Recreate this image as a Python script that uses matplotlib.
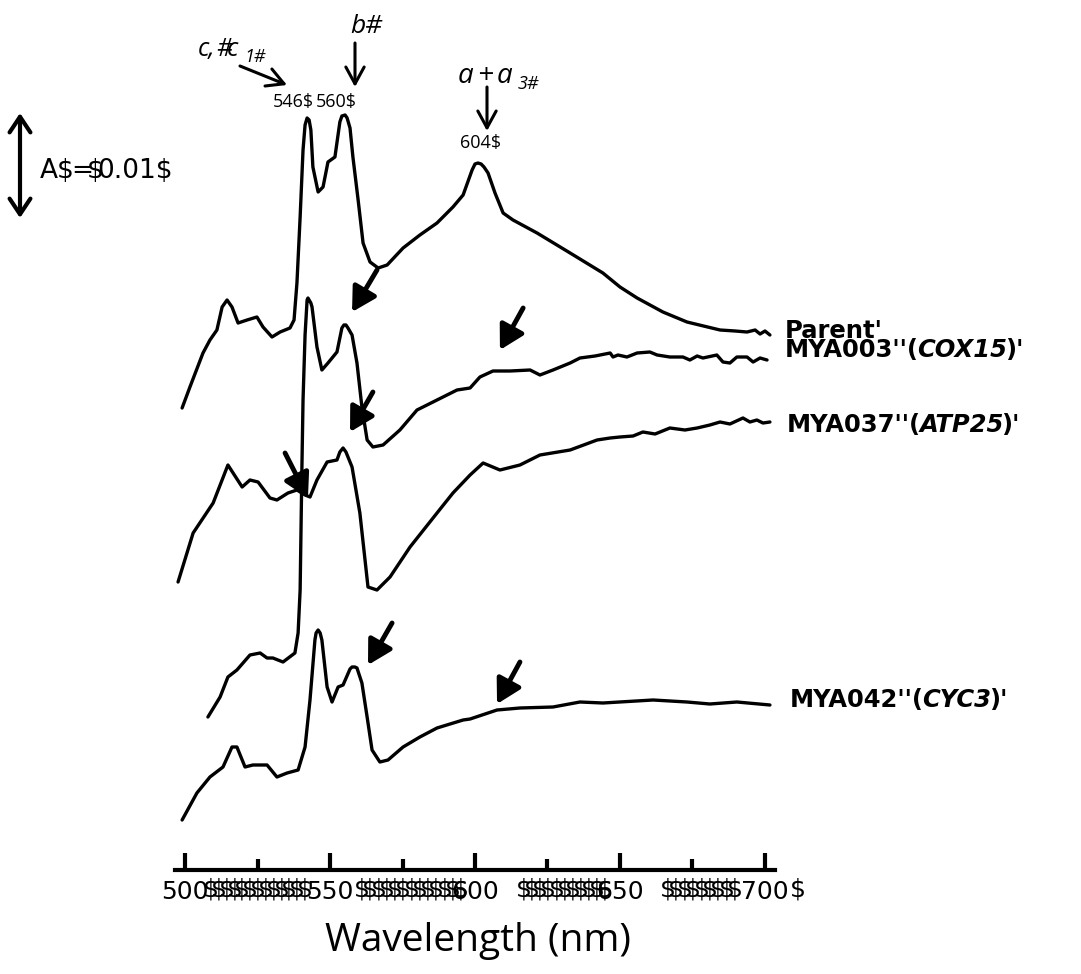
import matplotlib
matplotlib.use("Agg")
import matplotlib.pyplot as plt

plt.rcParams['font.family'] = ['Open Sans', 'DejaVu Sans']

# ---------------- data (wavelength in nm, absorbance in mA, traces stacked) ----------------
parent_wl = [499.0, 501.7, 506.2, 508.6, 511.0, 512.8, 514.5, 516.2, 518.3, 521.4,
             524.8, 526.9, 530.0, 532.8, 536.2, 537.6, 538.6, 539.7, 540.7, 541.4,
             542.1, 542.8, 543.4, 544.1, 545.9, 547.6, 549.3, 551.7, 553.4, 554.1,
             555.2, 555.9, 556.9, 557.9, 559.7, 561.4, 563.8, 566.6, 569.7, 575.2,
             581.0, 586.9, 592.4, 595.9, 599.0, 600.0, 601.0, 602.1, 603.1, 604.5,
             606.9, 609.7, 613.1, 621.4, 632.8, 644.1, 650.0, 655.9, 664.8, 673.1,
             684.5, 689.7, 693.8, 696.6, 698.3, 700.0, 701.7]
parent_a = [46.2, 48.3, 51.7, 53.0, 54.0, 56.3, 57.0, 56.3, 54.7, 55.0,
            55.3, 54.3, 53.3, 53.8, 54.2, 55.0, 58.7, 65.3, 72.0, 74.5,
            75.2, 75.0, 74.0, 70.3, 67.8, 68.3, 70.8, 71.3, 74.8, 75.4,
            75.5, 75.2, 74.2, 71.3, 67.0, 62.7, 60.8, 60.2, 60.5, 62.2,
            63.5, 64.7, 66.3, 67.5, 70.0, 70.6, 70.7, 70.6, 70.3, 69.7,
            67.7, 65.7, 65.0, 63.7, 61.7, 59.7, 58.3, 57.2, 55.8, 54.8,
            54.0, 53.9, 53.8, 54.0, 53.6, 53.9, 53.5]

cox15_wl = [507.9, 512.1, 514.8, 517.9, 522.4, 525.9, 528.3, 530.3, 533.8, 537.9,
            539.0, 539.7, 540.0, 540.3, 540.7, 541.4, 542.1, 542.4, 542.8, 543.4,
            543.8, 545.5, 547.2, 549.3, 552.4, 554.1, 554.8, 555.5, 556.2, 557.6,
            559.3, 561.0, 562.8, 564.8, 568.3, 574.1, 580.0, 586.9, 593.8, 598.3,
            601.7, 606.2, 612.1, 619.0, 622.4, 626.9, 632.8, 636.2, 641.4, 646.6,
            647.6, 649.3, 652.4, 655.9, 660.3, 662.8, 667.2, 671.7, 674.1, 676.6,
            678.6, 683.4, 685.5, 687.9, 690.3, 693.8, 695.9, 698.3, 700.7]
cox15_a = [15.3, 17.3, 19.3, 20.0, 21.5, 21.7, 21.2, 21.2, 20.8, 21.7,
           23.7, 28.0, 34.0, 40.0, 47.0, 53.5, 57.0, 57.2, 57.0, 56.7,
           56.3, 52.3, 50.0, 50.7, 51.8, 54.2, 54.5, 54.5, 54.2, 53.5,
           50.7, 46.3, 43.0, 42.3, 42.5, 44.0, 46.0, 47.0, 48.0, 48.2,
           49.3, 49.9, 49.9, 50.0, 49.5, 50.0, 50.7, 51.2, 51.4, 51.7,
           51.3, 51.5, 51.3, 51.7, 51.8, 51.5, 51.3, 51.3, 51.0, 51.4,
           51.2, 51.5, 50.8, 50.7, 51.3, 51.3, 50.8, 51.2, 51.0]

atp25_wl = [497.6, 502.8, 509.7, 514.8, 519.7, 522.4, 525.2, 529.3, 531.7, 535.5,
            538.6, 541.4, 543.1, 545.5, 549.0, 552.4, 553.4, 554.5, 555.5, 557.6,
            560.3, 563.1, 566.2, 570.7, 577.6, 586.9, 592.4, 598.3, 602.8, 608.6,
            615.5, 622.4, 632.8, 642.1, 646.6, 650.0, 654.5, 657.9, 662.1, 667.2,
            672.4, 676.6, 681.0, 684.5, 687.9, 692.4, 694.8, 697.2, 699.3, 701.7]
atp25_a = [28.8, 33.7, 36.7, 40.5, 38.3, 39.0, 38.8, 37.2, 37.0, 37.7,
           38.0, 37.5, 37.3, 39.0, 40.8, 41.0, 41.8, 42.2, 41.8, 40.3,
           35.7, 28.3, 28.0, 29.3, 32.3, 35.7, 37.7, 39.5, 40.7, 40.0,
           40.5, 41.5, 42.0, 43.0, 43.2, 43.3, 43.4, 43.8, 43.6, 44.2,
           44.0, 44.2, 44.5, 44.8, 44.6, 45.2, 44.8, 45.0, 44.7, 44.8]

cyc3_wl = [499.0, 504.1, 508.6, 513.1, 516.2, 517.9, 520.7, 523.4, 528.3, 531.7,
           535.2, 539.0, 541.4, 543.1, 544.8, 545.2, 545.9, 546.6, 547.2, 549.0,
           550.7, 552.8, 554.5, 556.9, 557.6, 558.6, 559.3, 561.0, 562.8, 564.5,
           567.2, 570.0, 575.2, 581.0, 586.9, 595.9, 598.3, 607.6, 615.5, 626.9,
           636.2, 644.1, 661.4, 673.1, 681.0, 690.3, 701.7]
cyc3_a = [5.0, 7.7, 9.3, 10.3, 12.3, 12.3, 10.3, 10.5, 10.5, 9.3,
          9.7, 10.0, 12.3, 17.0, 23.0, 23.7, 24.0, 23.7, 23.0, 18.3,
          16.8, 18.3, 18.5, 20.1, 20.3, 20.3, 20.2, 18.7, 15.3, 12.0,
          10.8, 11.0, 12.3, 13.3, 14.2, 15.0, 15.1, 16.0, 16.2, 16.3,
          16.8, 16.7, 17.0, 16.8, 16.6, 16.8, 16.5]

trace_wl = [parent_wl, cox15_wl, atp25_wl, cyc3_wl]
trace_a = [parent_a, cox15_a, atp25_a, cyc3_a]

major_ticks = [500, 550, 600, 650, 700]
minor_ticks = [525, 575, 625, 675]
tick_labels = ["500", "550", "600", "650", "700"]
peak_labels = ["546$", "560$", "604$"]

# arrows on traces: (tail wavelength, tail A, tip wavelength, tip A)
mark_tail_wl = [566.2, 616.6, 564.8, 534.5, 571.4, 615.5]
mark_tail_a = [60.0, 56.2, 47.8, 41.7, 24.7, 20.8]
mark_tip_wl = [557.6, 608.6, 556.9, 542.4, 563.1, 607.6]
mark_tip_a = [55.8, 52.0, 43.8, 37.2, 20.5, 16.6]

# ---------------- figure ----------------
W, H = 1081, 974
fig = plt.figure(figsize=(W / 100, H / 100), dpi=100)
ax = fig.add_axes([175 / W, 104 / H, 600 / W, 870 / H])
renderer = fig.canvas.get_renderer()


def fx(x):
    return x / W


def fy(y):
    return 1 - y / H


for wl, a in zip(trace_wl, trace_a):
    ax.plot(wl, a, color='black', lw=2.4, solid_joinstyle='round', solid_capstyle='round')

ax.set_xlim(496.55, 703.45)
ax.set_ylim(0, 87)
for s in ['left', 'right', 'top']:
    ax.spines[s].set_visible(False)
ax.spines['bottom'].set_linewidth(3)
ax.set_yticks([])
ax.set_xticks(major_ticks)
ax.set_xticklabels(tick_labels, fontsize=18, family='DejaVu Sans')
ax.set_xticks(minor_ticks, minor=True)
ax.tick_params(axis='x', which='major', direction='in', length=12, width=3, pad=7)
ax.tick_params(axis='x', which='minor', direction='in', length=8, width=3)
ax.set_xlabel("Wavelength (nm)", fontsize=28)
ax.xaxis.set_label_coords((478 - 175) / 600, (870 - 922) / 870)

# '$' runs between tick labels
runs = [(203, 312), (354, 468), (516, 612), (660, 742), (790, 806)]
for x0, x1 in runs:
    span = x1 - 15 - x0
    n = max(1, int(round(span / 8.0)) + 1)
    step = span / (n - 1) if n > 1 else 0
    for i in range(n):
        fig.text(fx(x0 + i * step), fy(897), "$", fontsize=18, family='DejaVu Sans',
                 ha='left', va='baseline')

# arrows pointing at trace features
for tw, ta, pw, pa in zip(mark_tail_wl, mark_tail_a, mark_tip_wl, mark_tip_a):
    ax.annotate('', xy=(pw, pa), xytext=(tw, ta),
                arrowprops=dict(arrowstyle='-|>,head_length=0.8,head_width=0.45',
                                lw=3.5, color='black', mutation_scale=18,
                                shrinkA=0, shrinkB=0), annotation_clip=False)


def farrow(x0, y0, x1, y1):
    ax.annotate('', xy=(x1, H - y1), xytext=(x0, H - y0), xycoords='figure pixels',
                textcoords='figure pixels',
                arrowprops=dict(arrowstyle='->,head_length=0.55,head_width=0.3', lw=2.2,
                                color='black', mutation_scale=22, shrinkA=0, shrinkB=0))


farrow(240, 66, 287, 85)
farrow(355, 43, 355, 87)
farrow(487, 87, 487, 131)

fig.text(fx(273), fy(107), peak_labels[0], fontsize=13, ha='left', va='baseline')
fig.text(fx(316), fy(107), peak_labels[1], fontsize=13, ha='left', va='baseline')
fig.text(fx(460), fy(148), peak_labels[2], fontsize=13, ha='left', va='baseline')

# band labels
it = dict(style='italic', ha='left', va='baseline')
fig.text(fx(198), fy(56), "c,", fontsize=18, **it)
fig.text(fx(216), fy(56), "#", fontsize=18, **it)
fig.text(fx(227), fy(56), "c", fontsize=18, **it)
fig.text(fx(244), fy(62), "1#", fontsize=13, **it)
fig.text(fx(350), fy(33), "b#", fontsize=19, **it)
fig.text(fx(458), fy(83), "a", fontsize=20, **it)
fig.text(fx(477), fy(83), "+", fontsize=20, **it)
fig.text(fx(497), fy(83), "a", fontsize=20, **it)
fig.text(fx(518), fy(89), "3#", fontsize=13, **it)

# scale bar
ax.annotate('', xy=(20, H - 113), xytext=(20, H - 218), xycoords='figure pixels',
            textcoords='figure pixels',
            arrowprops=dict(arrowstyle='<->,head_length=0.45,head_width=0.3', lw=3,
                            color='black', mutation_scale=25, shrinkA=0, shrinkB=0))
sb = dict(fontsize=19, family='DejaVu Sans', ha='left', va='baseline')
fig.text(fx(40), fy(178), "A$", **sb)
fig.text(fx(71), fy(178), "=", **sb)
fig.text(fx(87), fy(178), "$", **sb)
fig.text(fx(97), fy(178), "0.01$", **sb)


# strain labels: bold pieces with italic gene names
def seq(x, y, pieces, size=17.5):
    for s, st in pieces:
        t = fig.text(fx(x), fy(y), s, fontsize=size, fontweight='bold', fontstyle=st,
                     family='DejaVu Sans', ha='left', va='baseline')
        x += t.get_window_extent(renderer).width - 2


seq(785, 338, [("Parent'", 'normal')])
seq(785, 357, [("MYA003''(", 'normal'), ("COX15", 'italic'), (")'", 'normal')])
seq(787, 432, [("MYA037''(", 'normal'), ("ATP25", 'italic'), (")'", 'normal')])
seq(790, 707, [("MYA042''(", 'normal'), ("CYC3", 'italic'), (")'", 'normal')])

fig.savefig("out.png", dpi=100, facecolor='white')
